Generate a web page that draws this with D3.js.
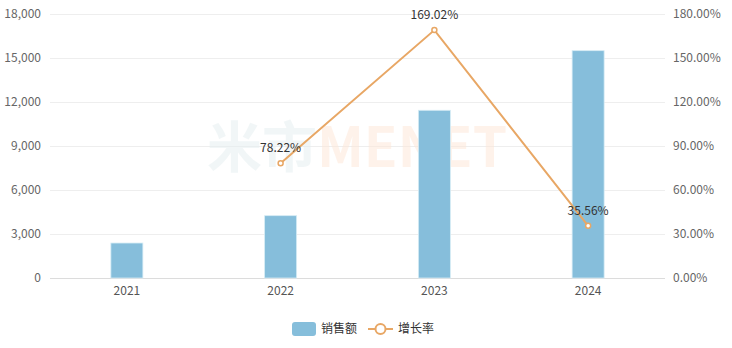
<!DOCTYPE html>
<html><head><meta charset="utf-8">
<script src="https://cdn.jsdelivr.net/npm/d3@7"></script>
<style>
body{margin:0;background:#fff;}
text{font-family:"Noto Sans CJK SC","Noto Sans",sans-serif;}
</style></head>
<body><svg id="c" width="732" height="348"></svg>
<script>
const years = ["2021","2022","2023","2024"];
const sales = [2385, 4250, 11435, 15500];
const growth = [null, 78.22, 169.02, 35.56];
const leftTicks = [0,3000,6000,9000,12000,15000,18000];
const rightTicks = [0,30,60,90,120,150,180];
const seriesNames = ["销售额","增长率"];

const svg = d3.select("#c");
const L=50, R=665, T=14, B=278;
const x = d3.scaleBand().domain(years).range([L,R]);
const yL = d3.scaleLinear().domain([0,18000]).range([B,T]);
const yR = d3.scaleLinear().domain([0,180]).range([B,T]);
const barColor="#86bedb", lineColor="#e8a765";

// grid
svg.append("g").selectAll("line").data(leftTicks).join("line")
  .attr("x1",L).attr("x2",R).attr("y1",d=>yL(d)+0.5).attr("y2",d=>yL(d)+0.5)
  .attr("stroke",d=>d===0?"#dcdcdc":"#eeeeee").attr("stroke-width",1);

// watermark
const wm = svg.append("text").attr("x",357).attr("y",167).attr("text-anchor","middle")
  .attr("font-size",55).attr("font-weight","bold");
wm.append("tspan").text("米市").attr("fill","#e6eef1").attr("fill-opacity",0.55);
wm.append("tspan").text("MENET").attr("fill","#fde6d6").attr("fill-opacity",0.5);

// left axis
const axL = d3.axisLeft(yL).tickValues(leftTicks).tickSize(0).tickPadding(9).tickFormat(d3.format(","));
const gL = svg.append("g").attr("transform",`translate(${L},0)`).call(axL);
gL.select(".domain").remove();
gL.selectAll("text").attr("fill","#666").attr("font-size",12).style("font-family",'"Noto Sans CJK SC","Noto Sans",sans-serif');

// right axis
const axR = d3.axisRight(yR).tickValues(rightTicks).tickSize(0).tickPadding(8).tickFormat(d=>d.toFixed(2)+"%");
const gR = svg.append("g").attr("transform",`translate(${R},0)`).call(axR);
gR.select(".domain").remove();
gR.selectAll("text").attr("fill","#666").attr("font-size",12).style("font-family",'"Noto Sans CJK SC","Noto Sans",sans-serif');

// x axis
const axX = d3.axisBottom(x).tickSize(0).tickPadding(8);
const gX = svg.append("g").attr("transform",`translate(0,${B})`).call(axX);
gX.select(".domain").remove();
gX.selectAll("text").attr("fill","#555").attr("font-size",12).style("font-family",'"Noto Sans CJK SC","Noto Sans",sans-serif');

// bars
const bw=32;
svg.append("g").selectAll("rect").data(years).join("rect")
  .attr("x",(d)=>x(d)+x.bandwidth()/2-bw/2)
  .attr("y",(d,i)=>yL(sales[i]))
  .attr("width",bw)
  .attr("height",(d,i)=>B-yL(sales[i]))
  .attr("fill",barColor).attr("stroke","#d6ecf5").attr("stroke-width",0.8);

// line
const pts = years.map((d,i)=>({x:x(d)+x.bandwidth()/2, v:growth[i]})).filter(p=>p.v!==null);
svg.append("path").datum(pts)
  .attr("d",d3.line().x(p=>p.x).y(p=>yR(p.v)))
  .attr("fill","none").attr("stroke",lineColor).attr("stroke-width",2);
svg.append("g").selectAll("circle").data(pts).join("circle")
  .attr("cx",p=>p.x).attr("cy",p=>yR(p.v)).attr("r",2.5)
  .attr("fill","#fff").attr("stroke",lineColor).attr("stroke-width",1.5);
svg.append("g").selectAll("text").data(pts).join("text")
  .attr("x",p=>p.x).attr("y",p=>yR(p.v)-11)
  .attr("text-anchor","middle").attr("font-size",12).attr("fill","#333")
  .text(p=>p.v.toFixed(2)+"%");

// legend
const lg = svg.append("g");
lg.append("rect").attr("x",292).attr("y",322).attr("width",24).attr("height",14).attr("rx",3).attr("fill",barColor);
lg.append("text").attr("x",321).attr("y",333).attr("font-size",12).attr("fill","#333").text(seriesNames[0]);
lg.append("line").attr("x1",368).attr("x2",393).attr("y1",329).attr("y2",329).attr("stroke",lineColor).attr("stroke-width",2);
lg.append("circle").attr("cx",380.5).attr("cy",329).attr("r",5).attr("fill","#fff").attr("stroke",lineColor).attr("stroke-width",2);
lg.append("text").attr("x",398).attr("y",333).attr("font-size",12).attr("fill","#333").text(seriesNames[1]);
</script></body></html>
